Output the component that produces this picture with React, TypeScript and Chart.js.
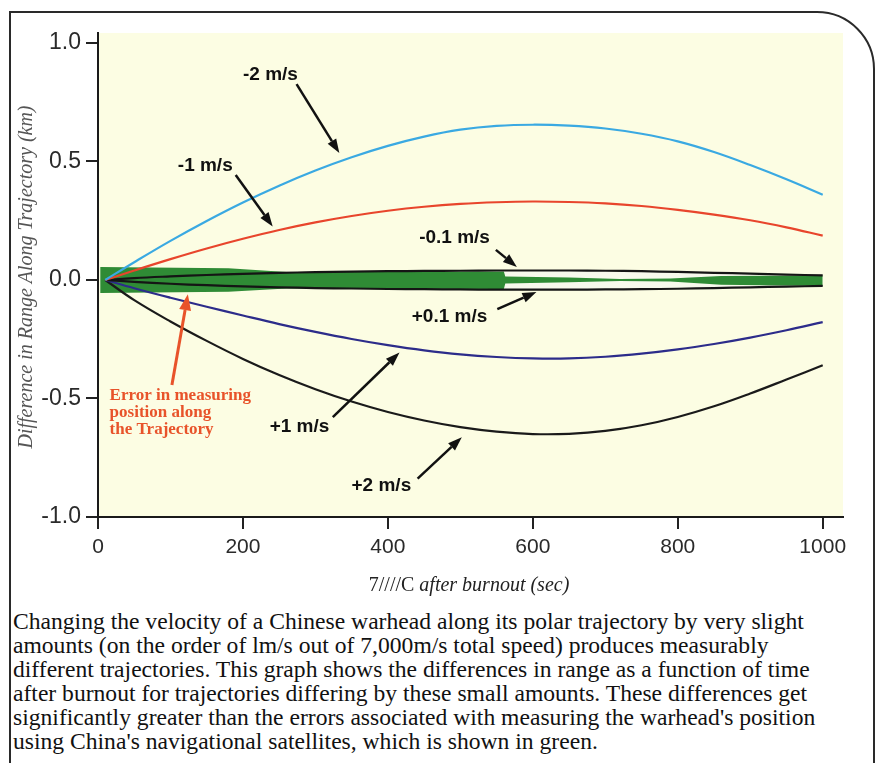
import React, { useEffect, useRef } from "react";
import { Chart, registerables } from "chart.js";

Chart.register(...registerables);

// ---- data (time after burnout in sec, range difference in km) ----
const times = [10, 50, 100, 150, 200, 250, 300, 350, 400, 450, 500, 550, 600, 650, 700, 750, 800, 850, 900, 950, 1000];
const minus2 = [0, 0.075, 0.165, 0.249, 0.327, 0.398, 0.462, 0.518, 0.566, 0.605, 0.634, 0.65, 0.655, 0.651, 0.639, 0.617, 0.585, 0.54, 0.485, 0.425, 0.36];
const minus1 = [0, 0.04, 0.088, 0.133, 0.174, 0.211, 0.243, 0.27, 0.292, 0.309, 0.321, 0.328, 0.331, 0.329, 0.323, 0.312, 0.296, 0.276, 0.252, 0.222, 0.187];
const minus01 = [0, 0.008, 0.015, 0.021, 0.026, 0.03, 0.033, 0.035, 0.037, 0.038, 0.039, 0.04, 0.04, 0.04, 0.039, 0.037, 0.034, 0.03, 0.027, 0.023, 0.019];
const plus01 = [0, -0.008, -0.016, -0.022, -0.027, -0.031, -0.034, -0.036, -0.038, -0.039, -0.04, -0.041, -0.041, -0.041, -0.04, -0.039, -0.037, -0.034, -0.031, -0.028, -0.025];
const plus1 = [0, -0.035, -0.075, -0.113, -0.15, -0.186, -0.219, -0.249, -0.275, -0.297, -0.314, -0.325, -0.331, -0.331, -0.324, -0.311, -0.293, -0.27, -0.243, -0.212, -0.178];
const plus2 = [0, -0.085, -0.175, -0.257, -0.333, -0.401, -0.461, -0.513, -0.557, -0.593, -0.621, -0.64, -0.65, -0.649, -0.637, -0.613, -0.578, -0.533, -0.479, -0.42, -0.36];

// measurement error band (green)
const bandTimes = [3, 180, 260, 560, 562, 650, 720, 790, 860, 1000];
const bandUpper = [0.055, 0.05, 0.034, 0.036, 0.015, 0.01, 0.004, 0.006, 0.017, 0.019];
const bandLower = [-0.055, -0.05, -0.036, -0.038, -0.015, -0.01, -0.004, -0.006, -0.02, -0.025];

const xTicks = [0, 200, 400, 600, 800, 1000];
const yTicks = [-1.0, -0.5, 0.0, 0.5, 1.0];

const seriesLabels = ["-2 m/s", "-1 m/s", "-0.1 m/s", "+0.1 m/s", "+1 m/s", "+2 m/s"];

const yTitle = "Difference in Range Along Trajectory (km)";
const xTitleA = "7////C ";
const xTitleB = "after burnout (sec)";
const errorText = ["Error in measuring", "position along", "the Trajectory"];

const captionLines = [
  "Changing the velocity of a Chinese warhead along its polar trajectory by very slight",
  "amounts (on the order of lm/s out of 7,000m/s total speed) produces measurably",
  "different trajectories. This graph shows the differences in range as a function of time",
  "after burnout for trajectories differing by these small amounts. These differences get",
  "significantly greater than the errors associated with measuring the warhead's position",
  "using China's navigational satellites, which is shown in green.",
];

// annotation placement (data units)
const labelSpots = [
  { text: seriesLabels[0], t: 238, v: 0.864 },
  { text: seriesLabels[1], t: 148, v: 0.481 },
  { text: seriesLabels[2], t: 492, v: 0.179 },
  { text: seriesLabels[3], t: 485, v: -0.157 },
  { text: seriesLabels[4], t: 278, v: -0.621 },
  { text: seriesLabels[5], t: 391, v: -0.868 },
];
const arrowSpots = [
  { t1: 274, v1: 0.826, t2: 333, v2: 0.536 },
  { t1: 190, v1: 0.443, t2: 241, v2: 0.226 },
  { t1: 549, v1: 0.127, t2: 578, v2: 0.055 },
  { t1: 551, v1: -0.123, t2: 605, v2: -0.051 },
  { t1: 324, v1: -0.579, t2: 416, v2: -0.306 },
  { t1: 441, v1: -0.838, t2: 502, v2: -0.664 },
];
const errorArrow = { t1: 102, v1: -0.443, t2: 124, v2: -0.06 };
const errorTextSpot = { t: 16, v: -0.486 };

const pts = (xs: number[], ys: number[]) => xs.map((x, i) => ({ x, y: ys[i] }));

function drawArrow(ctx: CanvasRenderingContext2D, x1: number, y1: number, x2: number, y2: number, color: string, lw: number, hl: number, hw: number) {
  const ang = Math.atan2(y2 - y1, x2 - x1);
  const bx = x2 - hl * Math.cos(ang);
  const by = y2 - hl * Math.sin(ang);
  ctx.save();
  ctx.strokeStyle = color;
  ctx.fillStyle = color;
  ctx.lineWidth = lw;
  ctx.beginPath();
  ctx.moveTo(x1, y1);
  ctx.lineTo(bx, by);
  ctx.stroke();
  ctx.beginPath();
  ctx.moveTo(x2, y2);
  ctx.lineTo(bx + (hw / 2) * Math.sin(ang), by - (hw / 2) * Math.cos(ang));
  ctx.lineTo(bx - (hw / 2) * Math.sin(ang), by + (hw / 2) * Math.cos(ang));
  ctx.closePath();
  ctx.fill();
  ctx.restore();
}

const decorPlugin = {
  id: "decor",
  beforeDraw(chart: any) {
    const { ctx, chartArea } = chart;
    ctx.save();
    ctx.fillStyle = "#fcfde3";
    ctx.fillRect(chartArea.left, chartArea.top, chartArea.right - chartArea.left, chartArea.bottom - chartArea.top);
    ctx.restore();
  },
  afterDraw(chart: any) {
    const { ctx, chartArea, scales } = chart;
    const X = (t: number) => scales.x.getPixelForValue(t);
    const Y = (v: number) => scales.y.getPixelForValue(v);
    ctx.save();
    // series labels
    ctx.fillStyle = "#111";
    ctx.font = "bold 19px 'Liberation Sans', Arial, sans-serif";
    ctx.textAlign = "center";
    ctx.textBaseline = "middle";
    labelSpots.forEach((l) => ctx.fillText(l.text, X(l.t), Y(l.v)));
    arrowSpots.forEach((a) => drawArrow(ctx, X(a.t1), Y(a.v1), X(a.t2), Y(a.v2), "#111", 2.5, 14, 10));
    // error annotation
    ctx.fillStyle = "#e8532a";
    ctx.font = "bold 17px 'Liberation Serif', 'Times New Roman', serif";
    ctx.textAlign = "left";
    errorText.forEach((s, i) => ctx.fillText(s, X(errorTextSpot.t), Y(errorTextSpot.v) + i * 17));
    drawArrow(ctx, X(errorArrow.t1), Y(errorArrow.v1), X(errorArrow.t2), Y(errorArrow.v2), "#e8532a", 3, 16, 12);
    // y title
    ctx.fillStyle = "#555";
    ctx.font = "italic 20px 'Liberation Serif', 'Times New Roman', serif";
    ctx.textAlign = "center";
    ctx.translate(chartArea.left - 71, (chartArea.top + chartArea.bottom) / 2 + 2);
    ctx.rotate(-Math.PI / 2);
    ctx.fillText(yTitle, 0, 0);
    ctx.restore();
    // x title
    ctx.save();
    ctx.fillStyle = "#222";
    ctx.textBaseline = "middle";
    const fa = "20px 'Liberation Serif', 'Times New Roman', serif";
    const fb = "italic 20px 'Liberation Serif', 'Times New Roman', serif";
    ctx.font = fa;
    const wa = ctx.measureText(xTitleA).width;
    ctx.font = fb;
    const wb = ctx.measureText(xTitleB).width;
    const cx = X(512);
    const startX = cx - (wa + wb) / 2;
    const ty = chartArea.bottom + 69;
    ctx.textAlign = "left";
    ctx.font = fa;
    ctx.fillText(xTitleA, startX, ty);
    ctx.font = fb;
    ctx.fillText(xTitleB, startX + wa, ty);
    ctx.restore();
  },
};

export default function App() {
  const ref = useRef<HTMLCanvasElement>(null);
  useEffect(() => {
    if (!ref.current) return;
    const lineDs = (label: string, data: number[], color: string, width: number) => ({
      label,
      data: pts(times, data),
      borderColor: color,
      borderWidth: width,
      pointRadius: 0,
      fill: false,
      tension: 0.4,
      order: 1,
    });
    const chart = new Chart(ref.current, {
      type: "line",
      data: {
        datasets: [
          // 0,1: gap between the ±0.1 m/s lines
          { label: "gapTop", data: pts(times, minus01), borderWidth: 0, pointRadius: 0, fill: 1, backgroundColor: "#f7f9ec", tension: 0.4, order: 30 },
          { label: "gapBottom", data: pts(times, plus01), borderWidth: 0, pointRadius: 0, fill: false, tension: 0.4, order: 30 },
          // 2,3: green error band
          { label: "bandTop", data: pts(bandTimes, bandUpper), borderWidth: 0, pointRadius: 0, fill: 3, backgroundColor: "#2f8b35", tension: 0, order: 20 },
          { label: "bandBottom", data: pts(bandTimes, bandLower), borderWidth: 0, pointRadius: 0, fill: false, tension: 0, order: 20 },
          lineDs(seriesLabels[0], minus2, "#3aa9e2", 2.2),
          lineDs(seriesLabels[1], minus1, "#e8452c", 2.2),
          lineDs(seriesLabels[2], minus01, "#151515", 2.2),
          lineDs(seriesLabels[3], plus01, "#151515", 2.2),
          lineDs(seriesLabels[4], plus1, "#2c2c8a", 2.2),
          lineDs(seriesLabels[5], plus2, "#1a1a1a", 2.2),
        ] as any,
      },
      options: {
        responsive: false,
        animation: false,
        devicePixelRatio: 1,
        layout: { padding: { left: 0, top: 33, right: 33, bottom: 0 } },
        plugins: { legend: { display: false }, tooltip: { enabled: false } },
        scales: {
          x: {
            type: "linear",
            min: 0,
            max: 1028,
            afterBuildTicks: (s: any) => {
              s.ticks = xTicks.map((v) => ({ value: v }));
            },
            afterFit: (s: any) => {
              s.height = 83;
            },
            ticks: {
              color: "#2a2a2a",
              font: { family: "'Liberation Sans', Arial, sans-serif", size: 21 },
              padding: 6,
              maxRotation: 0,
              callback: (v: any) => String(v),
            },
            grid: { drawOnChartArea: false, drawTicks: true, tickLength: 12, color: "#222", lineWidth: 2 },
            border: { display: true, color: "#1a1a1a", width: 2 },
          },
          y: {
            type: "linear",
            min: -1,
            max: 1.042,
            afterBuildTicks: (s: any) => {
              s.ticks = yTicks.map((v) => ({ value: v }));
            },
            afterFit: (s: any) => {
              s.width = 98;
            },
            ticks: {
              color: "#2a2a2a",
              font: { family: "'Liberation Sans', Arial, sans-serif", size: 23 },
              padding: 5,
              callback: (v: any) => Number(v).toFixed(1),
            },
            grid: { drawOnChartArea: false, drawTicks: true, tickLength: 12, color: "#222", lineWidth: 2 },
            border: { display: true, color: "#1a1a1a", width: 2 },
          },
        },
      } as any,
      plugins: [decorPlugin],
    });
    return () => chart.destroy();
  }, []);

  return (
    <div style={{ position: "absolute", left: 0, top: 0, width: 876, height: 763, overflow: "hidden", background: "#fff" }}>
      <div
        style={{
          position: "absolute",
          left: 9,
          top: 11,
          width: 862,
          height: 800,
          border: "2px solid #2a2a2a",
          borderTopRightRadius: 58,
          boxSizing: "content-box",
        }}
      />
      <canvas ref={ref} width={876} height={600} style={{ position: "absolute", left: 0, top: 0, width: 876, height: 600 }} />
      <div
        style={{
          position: "absolute",
          left: 13,
          top: 609,
          fontFamily: "'Liberation Serif', 'Times New Roman', serif",
          fontSize: 23.6,
          lineHeight: "24px",
          color: "#111",
        }}
      >
        {captionLines.map((l, i) => (
          <div key={i} style={{ whiteSpace: "nowrap" }}>
            {l}
          </div>
        ))}
      </div>
    </div>
  );
}
